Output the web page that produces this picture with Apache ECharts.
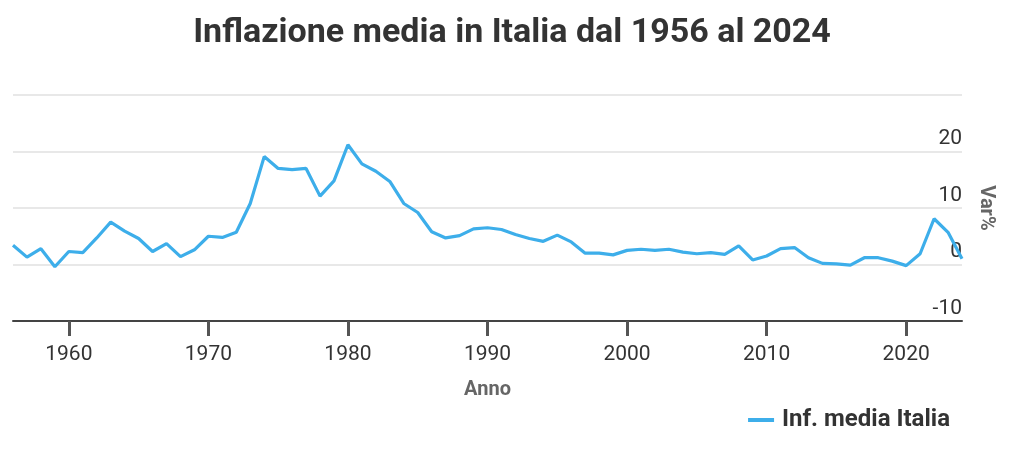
<!DOCTYPE html>
<html><head><meta charset="utf-8">
<script src="https://cdn.jsdelivr.net/npm/echarts@6/dist/echarts.min.js"></script>
<style>html,body{margin:0;padding:0;background:#fff}#c{width:1024px;height:449px}</style>
</head><body><div id="c"></div>
<script>
const years = [];
for (let y = 1956; y <= 2024; y++) years.push(String(y));
const inflation = [
  3.4, 1.3, 2.8, -0.4, 2.3, 2.1, 4.7, 7.5, 5.9, 4.6,
  2.3, 3.7, 1.4, 2.6, 5.0, 4.8, 5.7, 10.8, 19.1, 17.0,
  16.8, 17.0, 12.1, 14.8, 21.2, 17.8, 16.5, 14.7, 10.8, 9.2,
  5.8, 4.7, 5.1, 6.3, 6.5, 6.2, 5.3, 4.6, 4.1, 5.2,
  4.0, 2.0, 2.0, 1.7, 2.5, 2.7, 2.5, 2.7, 2.2, 1.9,
  2.1, 1.8, 3.3, 0.8, 1.5, 2.8, 3.0, 1.2, 0.2, 0.1,
  -0.1, 1.2, 1.2, 0.6, -0.2, 1.9, 8.1, 5.7, 1.0
];
const xTickLabels = ['1960', '1970', '1980', '1990', '2000', '2010', '2020'];
const yTickValues = [-10, 0, 10, 20];
const seriesName = 'Inf. media Italia';
const titleText = 'Inflazione media in Italia dal 1956 al 2024';

const isXTick = (idx, val) => xTickLabels.indexOf(String(val)) >= 0;

const chart = echarts.init(document.getElementById('c'), null, {renderer: 'canvas'});
chart.setOption({
  animation: false,
  backgroundColor: '#fff',
  textStyle: {fontFamily: 'Roboto'},
  title: {
    text: titleText, left: 'center', top: 11,
    textStyle: {fontFamily: 'Roboto', fontWeight: 'bold', fontSize: 34, color: '#333'}
  },
  legend: {
    data: [{name: seriesName}], right: 69, top: 403,
    icon: 'rect', itemWidth: 26, itemHeight: 4, itemGap: 8,
    textStyle: {fontFamily: 'Roboto', fontWeight: 'bold', fontSize: 24, color: '#333', padding: [0, 0, 0, 3]}
  },
  grid: {left: 13, right: 62, top: 95, bottom: 128, containLabel: false},
  xAxis: {
    type: 'category', data: years, boundaryGap: false,
    name: 'Anno', nameLocation: 'middle', nameGap: 59,
    nameTextStyle: {fontFamily: 'Roboto', fontWeight: 'bold', fontSize: 20, color: '#666'},
    axisLine: {onZero: false, lineStyle: {color: '#444', width: 2}},
    axisTick: {show: true, length: 15, interval: isXTick, lineStyle: {color: '#555', width: 3}},
    axisLabel: {interval: isXTick, fontSize: 21, color: '#333', margin: 23, fontFamily: 'Roboto'},
    splitLine: {show: false}
  },
  yAxis: {
    type: 'value', position: 'right', min: -10, max: 30, interval: 10,
    name: 'Var%', nameLocation: 'middle', nameRotate: -90, nameGap: 14,
    nameTextStyle: {fontFamily: 'Roboto', fontWeight: 'bold', fontSize: 20, color: '#666'},
    axisLine: {show: false}, axisTick: {show: false},
    axisLabel: {inside: true, margin: 0, verticalAlign: 'bottom', padding: [0, 0, 2, 0],
      fontSize: 21, color: '#333', fontFamily: 'Roboto',
      formatter: v => yTickValues.indexOf(v) >= 0 ? String(v) : ''},
    splitLine: {lineStyle: {color: '#e0e0e0', width: 1.5}}
  },
  series: [{
    name: seriesName, type: 'line',
    data: inflation,
    showSymbol: false, symbol: 'none',
    lineStyle: {color: '#3daeea', width: 3.2},
    itemStyle: {color: '#3daeea'}
  }]
});
</script></body></html>
